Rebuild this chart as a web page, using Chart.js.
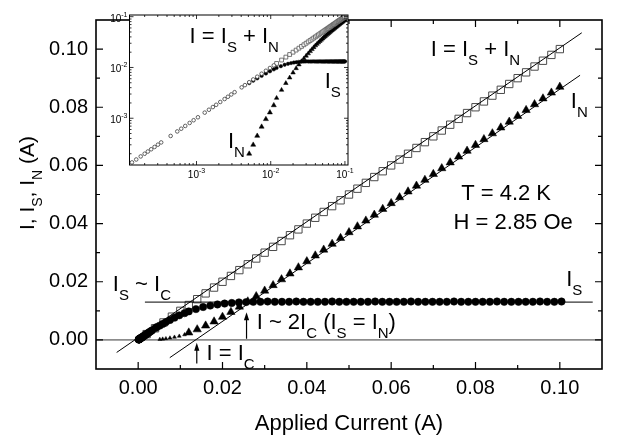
<!DOCTYPE html>
<html>
<head>
<meta charset="utf-8">
<script src="https://cdn.jsdelivr.net/npm/chart.js@4.4.1/dist/chart.umd.min.js"></script>
<style>
  html, body { margin: 0; padding: 0; background: #fff; }
  #wrap { position: relative; width: 621px; height: 439px; }
  #main { position: absolute; left: 0; top: 0; }
  #inset { position: absolute; left: 100px; top: 10px; }
</style>
</head>
<body>
<div id="wrap">
  <canvas id="main" width="621" height="439"></canvas>
  <canvas id="inset" width="255" height="180"></canvas>
</div>
<script>
// low-current sweep (A)
var lowCurrent = [0.000135, 0.000154, 0.000177, 0.000200, 0.000221, 0.000245, 0.000272, 0.000302, 0.000334,
    0.000448, 0.000550, 0.000622, 0.000705, 0.000808, 0.000914, 0.001045,
    0.00129, 0.00147, 0.00166, 0.00184, 0.00209, 0.00239, 0.00265, 0.00294, 0.00326,
    0.00406, 0.00449, 0.00513, 0.00581, 0.00658, 0.00754, 0.00861, 0.00975, 0.0110];
var lowTotal = [0.000135, 0.000154, 0.000177, 0.000200, 0.000221, 0.000245, 0.000272, 0.000302, 0.000334,
    0.000448, 0.000550, 0.000622, 0.000705, 0.000808, 0.000914, 0.001045,
    0.00129, 0.00147, 0.00166, 0.00184, 0.00209, 0.00239, 0.00265, 0.00294, 0.00326,
    0.00406, 0.00449, 0.00513, 0.00581, 0.00658, 0.00754, 0.00861, 0.00975, 0.0110];
var lowSuper = [0.000135, 0.000154, 0.000177, 0.000200, 0.000221, 0.000245, 0.000272, 0.000302, 0.000334,
    0.000448, 0.000550, 0.000622, 0.000705, 0.000808, 0.000914, 0.001045,
    0.00129, 0.00147, 0.00166, 0.00184, 0.00209, 0.00239, 0.00265, 0.00294, 0.00326,
    0.00406, 0.00449, 0.00493, 0.00551, 0.00613, 0.00686, 0.00765, 0.00845, 0.0092];
var lowNormal = [null, null, null, null, null, null, null, null, null,
    null, null, null, null, null, null, null,
    null, null, null, null, null, null, null, null, null,
    null, null, 0.00020, 0.00030, 0.00045, 0.00068, 0.00096, 0.00130, 0.00180];

// linear sweep: total current I and normal current I_N
var sweepCurrent = [0.002, 0.004, 0.006, 0.008, 0.010, 0.012, 0.014, 0.016, 0.018, 0.020,
    0.022, 0.024, 0.026, 0.028, 0.030, 0.032, 0.034, 0.036, 0.038, 0.040,
    0.042, 0.044, 0.046, 0.048, 0.050, 0.052, 0.054, 0.056, 0.058, 0.060,
    0.062, 0.064, 0.066, 0.068, 0.070, 0.072, 0.074, 0.076, 0.078, 0.080,
    0.082, 0.084, 0.086, 0.088, 0.090, 0.092, 0.094, 0.096, 0.098, 0.100];
var sweepTotal = [0.002, 0.004, 0.006, 0.008, 0.010, 0.012, 0.014, 0.016, 0.018, 0.020,
    0.022, 0.024, 0.026, 0.028, 0.030, 0.032, 0.034, 0.036, 0.038, 0.040,
    0.042, 0.044, 0.046, 0.048, 0.050, 0.052, 0.054, 0.056, 0.058, 0.060,
    0.062, 0.064, 0.066, 0.068, 0.070, 0.072, 0.074, 0.076, 0.078, 0.080,
    0.082, 0.084, 0.086, 0.088, 0.090, 0.092, 0.094, 0.096, 0.098, 0.100];
var sweepNormal = [null, null, null, null, null, 0.0025, 0.0036, 0.0049, 0.0063, 0.0079,
    0.0096, 0.0114, 0.0132, 0.0150, 0.0169, 0.0188, 0.0208, 0.0228, 0.0249, 0.0270,
    0.0290, 0.0310, 0.0330, 0.0350, 0.0370, 0.0390, 0.0410, 0.0430, 0.0450, 0.0470,
    0.0490, 0.0510, 0.0530, 0.0550, 0.0570, 0.0590, 0.0610, 0.0630, 0.0650, 0.0670,
    0.0690, 0.0710, 0.0730, 0.0750, 0.0770, 0.0790, 0.0810, 0.0830, 0.0850, 0.0870];

// supercurrent I_S above I_c
var plateauCurrent = [0.0120, 0.0137, 0.0154, 0.0171, 0.0188, 0.0205, 0.0222, 0.0239, 0.0256, 0.0273,
    0.0290, 0.0307, 0.0324, 0.0341, 0.0358, 0.0375, 0.0392, 0.0409, 0.0426, 0.0443,
    0.0460, 0.0477, 0.0494, 0.0511, 0.0528, 0.0545, 0.0562, 0.0579, 0.0596, 0.0613,
    0.0630, 0.0647, 0.0664, 0.0681, 0.0698, 0.0715, 0.0732, 0.0749, 0.0766, 0.0783,
    0.0800, 0.0817, 0.0834, 0.0851, 0.0868, 0.0885, 0.0902, 0.0919, 0.0936, 0.0953,
    0.0970, 0.0987, 0.1004];
var plateauSuper = [0.0098, 0.0106, 0.0113, 0.0118, 0.0122, 0.0125, 0.0127, 0.0129, 0.0130, 0.0131,
    0.0131, 0.0132, 0.0131, 0.0131, 0.0131, 0.0132, 0.0131, 0.0131, 0.0131, 0.0131,
    0.0132, 0.0131, 0.0131, 0.0131, 0.0131, 0.0131, 0.0132, 0.0131, 0.0131, 0.0131,
    0.0131, 0.0132, 0.0131, 0.0131, 0.0131, 0.0131, 0.0131, 0.0132, 0.0131, 0.0131,
    0.0131, 0.0131, 0.0131, 0.0132, 0.0131, 0.0131, 0.0131, 0.0131, 0.0131, 0.0132,
    0.0131, 0.0131, 0.0132];

// straight guide lines
var totalFitCurrent = [-0.0051, 0.1052];
var totalFit = [-0.0043, 0.1056];
var normalFitCurrent = [0.0075, 0.1048];
var normalFit = [-0.0061, 0.0910];
var superFitCurrent = [0.0016, 0.1078];
var superFit = [0.0130, 0.0130];
var zeroCurrent = [-0.01, 0.11];
var zeroLine = [0, 0];

// axis ticks
var mainTickLabels = ["0.00", "0.02", "0.04", "0.06", "0.08", "0.10"];
var insetDecades = [0.001, 0.01, 0.1];

var FONT = '"Liberation Sans", Arial, Helvetica, sans-serif';
Chart.defaults.font.family = FONT;
Chart.defaults.color = "#000";

function pts(xs, ys, minX) {
    return xs.map(function (x, i) { return { x: x, y: ys[i] }; })
        .filter(function (p) { return p.y !== null && (minX === undefined || p.x >= minX); });
}

function richWidth(ctx, parts, size, subSize) {
    var w = 0;
    parts.forEach(function (p) {
        ctx.font = (p[1] ? subSize : size) + "px " + FONT;
        w += ctx.measureText(p[0]).width;
    });
    return w;
}

function drawRich(ctx, x, y, parts, size, subSize, drop) {
    var cx = x;
    ctx.textAlign = "left";
    ctx.textBaseline = "alphabetic";
    parts.forEach(function (p) {
        ctx.font = (p[1] ? subSize : size) + "px " + FONT;
        ctx.fillText(p[0], cx, y + (p[1] ? drop : 0));
        cx += ctx.measureText(p[0]).width;
    });
}

var mainNotes = [
    { x: 0.0694, y: 0.0975, parts: [["I = I", 0], ["S", 1], [" + I", 0], ["N", 1]] },
    { x: 0.1026, y: 0.0797, parts: [["I", 0], ["N", 1]] },
    { x: 0.0766, y: 0.0480, parts: [["T = 4.2 K", 0]] },
    { x: 0.0748, y: 0.0381, parts: [["H = 2.85 Oe", 0]] },
    { x: 0.1015, y: 0.0184, parts: [["I", 0], ["S", 1]] },
    { x: -0.0060, y: 0.0167, parts: [["I", 0], ["S", 1], [" ~ I", 0], ["C", 1]] },
    { x: 0.0162, y: -0.0070, parts: [["I = I", 0], ["C", 1]] },
    { x: 0.0281, y: 0.0038, parts: [["I ~ 2I", 0], ["C", 1], [" (I", 0], ["S", 1], [" = I", 0], ["N", 1], [")", 0]] }
];
var arrows = [
    { x: 0.0139, from: -0.0081, to: -0.0010 },
    { x: 0.0257, from: 0.0004, to: 0.0095 }
];
var insetNotes = [
    { x: 8.07e-4, y: 3.08e-2, parts: [["I = I", 0], ["S", 1], [" + I", 0], ["N", 1]] },
    { x: 5.33e-2, y: 3.94e-3, parts: [["I", 0], ["S", 1]] },
    { x: 2.65e-3, y: 2.6e-4, parts: [["I", 0], ["N", 1]] }
];

var mainDecor = {
    id: "mainDecor",
    afterDatasetsDraw: function (chart) {
        var ctx = chart.ctx, a = chart.chartArea;
        var xs = chart.scales.x, ys = chart.scales.y;
        ctx.save();
        ctx.strokeStyle = "#000";
        ctx.fillStyle = "#000";
        // arrows
        ctx.lineWidth = 1.2;
        arrows.forEach(function (ar) {
            var px = xs.getPixelForValue(ar.x);
            var p0 = ys.getPixelForValue(ar.from), p1 = ys.getPixelForValue(ar.to);
            ctx.beginPath(); ctx.moveTo(px, p0); ctx.lineTo(px, p1 + 6); ctx.stroke();
            ctx.beginPath(); ctx.moveTo(px, p1); ctx.lineTo(px - 2.6, p1 + 8);
            ctx.lineTo(px + 2.6, p1 + 8); ctx.closePath(); ctx.fill();
        });
        mainNotes.forEach(function (n) {
            drawRich(ctx, xs.getPixelForValue(n.x), ys.getPixelForValue(n.y), n.parts, 22, 15, 9);
        });
        // frame and inward ticks
        ctx.lineWidth = 1.6;
        ctx.strokeRect(a.left, a.top, a.right - a.left, a.bottom - a.top);
        ctx.lineWidth = 1.2;
        xs.ticks.forEach(function (t) {
            var k = Math.round(t.value * 100);
            if (t.value <= xs.min + 1e-9 || t.value >= xs.max - 1e-9) return;
            var len = k % 2 === 0 ? 7 : 4, px = xs.getPixelForValue(t.value);
            ctx.beginPath();
            ctx.moveTo(px, a.bottom); ctx.lineTo(px, a.bottom - len);
            ctx.moveTo(px, a.top); ctx.lineTo(px, a.top + len);
            ctx.stroke();
        });
        ys.ticks.forEach(function (t) {
            var k = Math.round(t.value * 100);
            if (t.value <= ys.min + 1e-9 || t.value >= ys.max - 1e-9) return;
            var len = k % 2 === 0 ? 7 : 4, py = ys.getPixelForValue(t.value);
            ctx.beginPath();
            ctx.moveTo(a.left, py); ctx.lineTo(a.left + len, py);
            ctx.moveTo(a.right, py); ctx.lineTo(a.right - len, py);
            ctx.stroke();
        });
        // y title with subscripts
        var yParts = [["I, I", 0], ["S", 1], [", I", 0], ["N", 1], [" (A)", 0]];
        var w = richWidth(ctx, yParts, 21, 14);
        ctx.translate(34, 183 + w / 2);
        ctx.rotate(-Math.PI / 2);
        drawRich(ctx, 0, 0, yParts, 21, 14, 8);
        ctx.restore();
    }
};

function mainLabel(v) {
    var k = Math.round(v * 100);
    if (k % 2 !== 0 || k < 0 || k > 10) return "";
    return mainTickLabels[k / 2];
}

new Chart(document.getElementById("main"), {
    type: "scatter",
    data: {
        datasets: [
            { data: pts(totalFitCurrent, totalFit), showLine: true, borderColor: "#000", borderWidth: 1, pointRadius: 0 },
            { data: pts(normalFitCurrent, normalFit), showLine: true, borderColor: "#000", borderWidth: 1, pointRadius: 0 },
            { data: pts(superFitCurrent, superFit), showLine: true, borderColor: "#000", borderWidth: 1, pointRadius: 0 },
            { data: pts(lowCurrent, lowSuper), pointStyle: "circle", pointRadius: 3.7,
              pointBackgroundColor: "#000", pointBorderColor: "#000", pointBorderWidth: 0.5 },
            { data: pts(plateauCurrent, plateauSuper), pointStyle: "circle", pointRadius: 3.7,
              pointBackgroundColor: "#000", pointBorderColor: "#000", pointBorderWidth: 0.5 },
            { data: pts(sweepCurrent, sweepNormal), pointStyle: "triangle", pointRadius: 4.8,
              pointBackgroundColor: "#000", pointBorderColor: "#000", pointBorderWidth: 0.5 },
            { data: pts(lowCurrent, lowNormal), pointStyle: "triangle", pointRadius: 2.2,
              pointBackgroundColor: "#000", pointBorderColor: "#000", pointBorderWidth: 0.5 },
            { data: pts(sweepCurrent, sweepTotal), pointStyle: "rect", pointRadius: 5.2,
              pointBackgroundColor: "#fff", pointBorderColor: "#4a4a4a", pointBorderWidth: 1 },
            { data: pts(zeroCurrent, zeroLine), showLine: true, borderColor: "#8c8c8c", borderWidth: 1.6, pointRadius: 0 }
        ]
    },
    options: {
        responsive: false,
        animation: false,
        devicePixelRatio: 1,
        events: [],
        layout: { padding: { top: 5, right: 19, left: 0, bottom: 0 } },
        plugins: { legend: { display: false }, tooltip: { enabled: false } },
        scales: {
            x: {
                type: "linear", min: -0.01, max: 0.11,
                grid: { display: false, drawTicks: false },
                border: { display: false },
                ticks: { stepSize: 0.01, autoSkip: false, maxRotation: 0, padding: 7,
                         font: { size: 20 }, callback: mainLabel },
                title: { display: true, text: "Applied Current (A)", font: { size: 22 },
                         padding: { top: 0, bottom: 2 } },
                afterFit: function (s) { s.height = 70; }
            },
            y: {
                type: "linear", min: -0.01, max: 0.11,
                grid: { display: false, drawTicks: false },
                border: { display: false },
                ticks: { stepSize: 0.01, autoSkip: false, padding: 8,
                         font: { size: 20 }, callback: mainLabel },
                afterFit: function (s) { s.width = 96; }
            }
        }
    },
    plugins: [mainDecor]
});

var insetDecor = {
    id: "insetDecor",
    beforeDatasetsDraw: function (chart) {
        var ctx = chart.ctx, a = chart.chartArea;
        ctx.save();
        ctx.fillStyle = "#fff";
        ctx.fillRect(a.left, a.top, a.right - a.left, a.bottom - a.top);
        ctx.restore();
    },
    afterDatasetsDraw: function (chart) {
        var ctx = chart.ctx, a = chart.chartArea;
        var xs = chart.scales.x, ys = chart.scales.y;
        ctx.save();
        ctx.strokeStyle = "#000";
        ctx.fillStyle = "#000";
        ctx.lineWidth = 1;
        ctx.strokeRect(a.left, a.top, a.right - a.left, a.bottom - a.top);
        ctx.lineWidth = 0.8;
        [0.0001, 0.001, 0.01, 0.1].forEach(function (d) {
            for (var m = 1; m <= 9; m++) {
                var v = d * m, len = m === 1 ? 4 : 2;
                if (v > xs.min && v < xs.max) {
                    var px = xs.getPixelForValue(v);
                    ctx.beginPath();
                    ctx.moveTo(px, a.bottom); ctx.lineTo(px, a.bottom - len);
                    ctx.moveTo(px, a.top); ctx.lineTo(px, a.top + len);
                    ctx.stroke();
                }
                if (v > ys.min && v < ys.max) {
                    var py = ys.getPixelForValue(v);
                    ctx.beginPath();
                    ctx.moveTo(a.left, py); ctx.lineTo(a.left + len, py);
                    ctx.moveTo(a.right, py); ctx.lineTo(a.right - len, py);
                    ctx.stroke();
                }
            }
        });
        // decade labels 10^n
        insetDecades.forEach(function (d) {
            var sup = String(Math.round(Math.log10(d)));
            ctx.font = "10px " + FONT;
            var w1 = ctx.measureText("10").width;
            ctx.font = "7px " + FONT;
            var w2 = ctx.measureText(sup).width;
            var px = xs.getPixelForValue(d);
            var bx = px - (w1 + w2) / 2, by = a.bottom + 13;
            ctx.font = "10px " + FONT; ctx.fillText("10", bx, by);
            ctx.font = "7px " + FONT; ctx.fillText(sup, bx + w1, by - 5);
            var py = ys.getPixelForValue(d);
            bx = a.left - 2 - (w1 + w2);
            ctx.font = "10px " + FONT; ctx.fillText("10", bx, py + 5);
            ctx.font = "7px " + FONT; ctx.fillText(sup, bx + w1, py);
        });
        insetNotes.forEach(function (n) {
            drawRich(ctx, xs.getPixelForValue(n.x), ys.getPixelForValue(n.y), n.parts, 22, 15, 9);
        });
        ctx.restore();
    }
};

new Chart(document.getElementById("inset"), {
    type: "scatter",
    data: {
        datasets: [
            { data: pts(lowCurrent, lowTotal), pointStyle: "circle", pointRadius: 1.8,
              pointBackgroundColor: "#fff", pointBorderColor: "#3c3c3c", pointBorderWidth: 0.8 },
            { data: pts(lowCurrent, lowSuper, 0.005), pointStyle: "circle", pointRadius: 1.8,
              pointBackgroundColor: "#000", pointBorderColor: "#000", pointBorderWidth: 0.5 },
            { data: pts(plateauCurrent, plateauSuper), pointStyle: "circle", pointRadius: 1.7,
              pointBackgroundColor: "#000", pointBorderColor: "#000", pointBorderWidth: 0.5 },
            { data: pts(sweepCurrent, sweepTotal, 0.011), pointStyle: "rect", pointRadius: 2.7,
              pointBackgroundColor: "#fff", pointBorderColor: "#555", pointBorderWidth: 0.8 },
            { data: pts(lowCurrent, lowNormal), pointStyle: "triangle", pointRadius: 2.9,
              pointBackgroundColor: "#000", pointBorderColor: "#000", pointBorderWidth: 0.5 },
            { data: pts(sweepCurrent, sweepNormal), pointStyle: "triangle", pointRadius: 2.6,
              pointBackgroundColor: "#000", pointBorderColor: "#000", pointBorderWidth: 0.5 }
        ]
    },
    options: {
        responsive: false,
        animation: false,
        devicePixelRatio: 1,
        events: [],
        layout: { padding: { top: 5, right: 7, left: 0, bottom: 0 } },
        plugins: { legend: { display: false }, tooltip: { enabled: false } },
        scales: {
            x: {
                type: "logarithmic", min: 1.25e-4, max: 0.11,
                grid: { display: false, drawTicks: false },
                border: { display: false },
                ticks: { display: false },
                afterFit: function (s) { s.height = 25; }
            },
            y: {
                type: "logarithmic", min: 1.2e-4, max: 0.108,
                grid: { display: false, drawTicks: false },
                border: { display: false },
                ticks: { display: false },
                afterFit: function (s) { s.width = 29.5; }
            }
        }
    },
    plugins: [insetDecor]
});
</script>
</body>
</html>
